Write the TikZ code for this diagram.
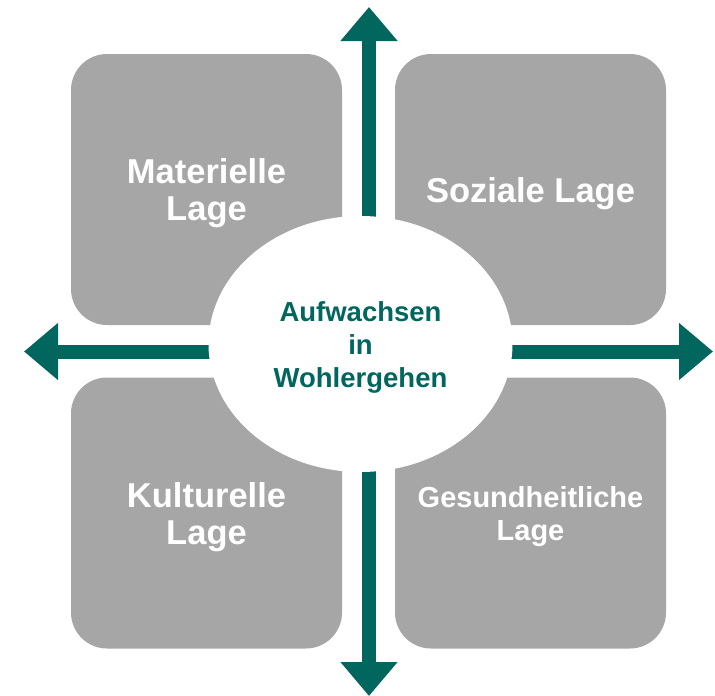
\documentclass[tikz,border=0pt]{standalone}
\usepackage{fontspec}
\setmainfont{Liberation Sans}
\usetikzlibrary{arrows.meta,shapes.geometric}
\definecolor{tealg}{RGB}{0,102,94}
\definecolor{boxgray}{RGB}{166,166,166}
\begin{document}
\begin{tikzpicture}[x=1pt,y=-1pt,
  quad/.style={rectangle,rounded corners=36pt,fill=boxgray,draw=none,
    minimum width=271pt,minimum height=271pt,inner sep=0pt},
  quadtext/.style={inner sep=0pt,align=center,text=white,yshift=-4pt,
    font=\bfseries\fontsize{34.5}{37}\selectfont},
  arr/.style={draw=tealg,line width=14pt,
    -{Triangle[length=34pt,width=55pt,fill=tealg]}},
  hubstyle/.style={ellipse,fill=white,draw=none,minimum width=304pt,
    minimum height=256pt,inner sep=0pt},
  hubtext/.style={inner sep=0pt,align=center,text=tealg,yshift=-3.5pt,
    font=\bfseries\fontsize{27.5}{33}\selectfont}]
\useasboundingbox (0,0) rectangle (715,696);
\node[quad] (tl) at (206.5,189.5) {};
\node[quad] (tr) at (530.5,189.5) {};
\node[quad] (bl) at (206.5,513) {};
\node[quad] (br) at (530.5,513) {};
\node[quadtext] (tltext) at (tl.center) {Materielle\\Lage};
\node[quadtext] (trtext) at (tr.center) {Soziale Lage};
\node[quadtext] (bltext) at (bl.center) {Kulturelle\\Lage};
\node[quadtext,font=\bfseries\fontsize{29}{33}\selectfont] (brtext) at (br.center) {Gesundheitliche\\Lage};
\coordinate (c) at (369,351.5);
\coordinate (up) at (369,7);
\coordinate (down) at (369,696);
\coordinate (left) at (24,351.5);
\coordinate (right) at (713,351.5);
\draw[arr] (c) -- (up);
\draw[arr] (c) -- (down);
\draw[arr] (c) -- (left);
\draw[arr] (c) -- (right);
\node[hubstyle] (hub) at (360.5,344) {};
\node[hubtext] (hubtext) at (hub.center) {Aufwachsen\\in\\Wohlergehen};
\end{tikzpicture}
\end{document}
